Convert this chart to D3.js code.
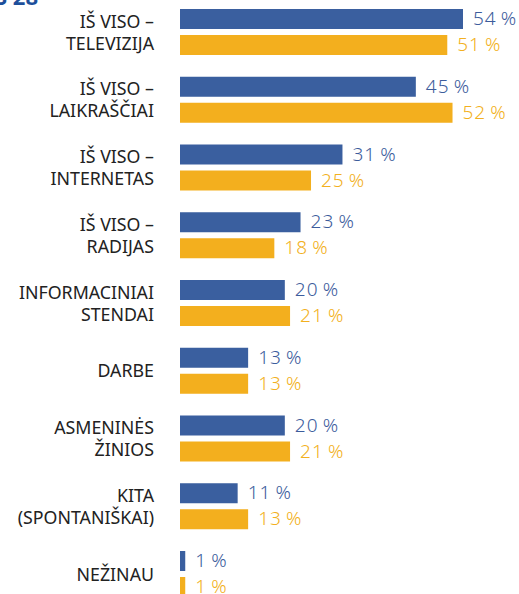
<!DOCTYPE html>
<html>
<head>
<meta charset="utf-8">
<script src="https://cdn.jsdelivr.net/npm/d3@7"></script>
<style>
  body { margin: 0; background: #fff; }
  svg { display: block; }
</style>
</head>
<body>
<div id="chart"></div>
<script>
const width = 519
const height = 594

// duomenys
const categories = ["IŠ VISO – TELEVIZIJA", "IŠ VISO – LAIKRAŠČIAI", "IŠ VISO – INTERNETAS", "IŠ VISO – RADIJAS",
    "INFORMACINIAI STENDAI", "DARBE", "ASMENINĖS ŽINIOS", "KITA (SPONTANIŠKAI)", "NEŽINAU"]
const labelLines = [["IŠ VISO –", "TELEVIZIJA"], ["IŠ VISO –", "LAIKRAŠČIAI"], ["IŠ VISO –", "INTERNETAS"],
    ["IŠ VISO –", "RADIJAS"], ["INFORMACINIAI", "STENDAI"], ["DARBE"], ["ASMENINĖS", "ŽINIOS"],
    ["KITA", "(SPONTANIŠKAI)"], ["NEŽINAU"]]
const seriesNames = ["blue", "yellow"]
const blueValues = [54, 45, 31, 23, 20, 13, 20, 11, 1]
const yellowValues = [51, 52, 25, 18, 21, 13, 21, 13, 1]

const colors = { blue: "#3a5f9f", yellow: "#f3af1e" }
const textColors = { blue: "#3c5c9c", yellow: "#f2b020" }

const data = categories.map((c, i) => ({
    cat: c, lines: labelLines[i],
    values: [{ s: "blue", v: blueValues[i] }, { s: "yellow", v: yellowValues[i] }]
}))

const svg = d3.select("#chart")
    .append("svg")
    .attr("width", width)
    .attr("height", height)

const barLeft = 180

const x = d3.scaleLinear().domain([0, 54]).range([0, 283])
const y = d3.scaleBand().domain(categories).range([9, 9 + 9 * 67.75]).padding(0)
const ySub = d3.scaleBand().domain(seriesNames).range([0, 46]).paddingInner(6 / 26)

// pavadinimo likutis viršuje
svg.append("text")
    .text("ES 28")
    .attr("x", 38)
    .attr("y", 5)
    .attr("text-anchor", "end")
    .attr("font-family", "Noto Sans")
    .attr("font-weight", "bold")
    .attr("font-size", 22)
    .attr("fill", "#1d4f9b")

const groups = svg.selectAll("g.group")
    .data(data)
    .join("g")
    .attr("class", "group")
    .attr("transform", d => `translate(0, ${y(d.cat)})`)

groups.selectAll("rect")
    .data(d => d.values)
    .join("rect")
    .attr("x", barLeft)
    .attr("y", d => ySub(d.s))
    .attr("width", d => x(d.v))
    .attr("height", ySub.bandwidth())
    .attr("fill", d => colors[d.s])

groups.selectAll("text.value")
    .data(d => d.values)
    .join("text")
    .attr("class", "value")
    .text(d => d.v + "\u2009%")
    .attr("x", d => barLeft + x(d.v) + 10)
    .attr("y", d => ySub(d.s) + ySub.bandwidth() / 2 + 6)
    .attr("font-family", "Noto Sans")
    .attr("font-weight", 300)
    .attr("font-size", 19)
    .attr("letter-spacing", 1)
    .attr("fill", d => textColors[d.s])

// kategorijų pavadinimai
const mid = 23
groups.append("text")
    .attr("class", "label")
    .attr("text-anchor", "end")
    .attr("font-family", "Noto Sans")
    .attr("font-size", 17.8)
    .attr("fill", "#222")
    .selectAll("tspan")
    .data(d => d.lines.map((l, i) => ({ l, i, n: d.lines.length })))
    .join("tspan")
    .attr("x", 154)
    .attr("y", d => mid + 6.5 + (d.i - (d.n - 1) / 2) * 22)
    .text(d => d.l)
</script>
</body>
</html>
